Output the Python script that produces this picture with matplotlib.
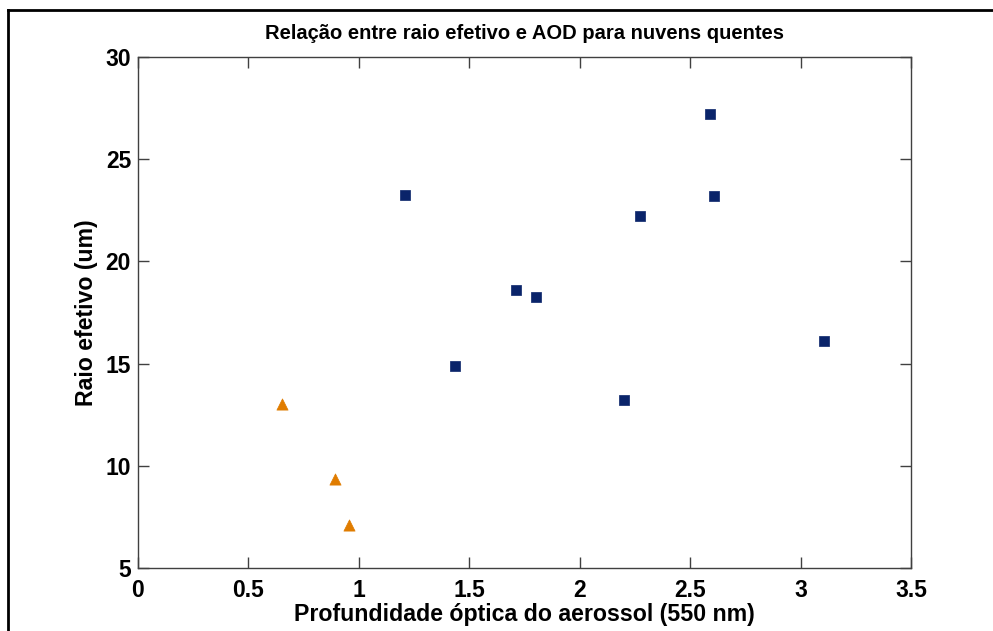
import matplotlib
matplotlib.use("Agg")
import matplotlib.pyplot as plt
from matplotlib.lines import Line2D

plt.rcParams['font.family'] = ['Liberation Sans', 'DejaVu Sans']

# Data
quentes_aod = [1.21, 1.435, 1.71, 1.80, 2.20, 2.275, 2.59, 2.61, 3.105]
quentes_reff = [23.25, 14.88, 18.60, 18.25, 13.22, 22.22, 27.22, 23.20, 16.10]
outros_aod = [0.652, 0.89, 0.955]
outros_reff = [13.0, 9.33, 7.08]

xticks = [0, 0.5, 1, 1.5, 2, 2.5, 3, 3.5]
xticklabels = ['0', '0.5', '1', '1.5', '2', '2.5', '3', '3.5']
yticks = [5, 10, 15, 20, 25, 30]

title = 'Relação entre raio efetivo e AOD para nuvens quentes'
xlabel = 'Profundidade óptica do aerossol (550 nm)'
ylabel = 'Raio efetivo (um)'

W, H = 993, 631
fig = plt.figure(figsize=(W / 100, H / 100), dpi=100)
ax = fig.add_axes([138 / W, 1 - 568 / H, (911 - 138) / W, (568 - 57) / H])

ax.scatter(quentes_aod, quentes_reff, marker='s', s=50, color='#0a246a',
           edgecolors='#0a246a', linewidths=0.5, zorder=3)
ax.scatter(outros_aod, outros_reff, marker='^', s=65, color='#e07c00',
           edgecolors='#e07c00', linewidths=0.5, zorder=3)

ax.set_xlim(0, 3.5)
ax.set_ylim(5, 30)
ax.set_xticks(xticks)
ax.set_xticklabels(xticklabels)
ax.set_yticks(yticks)

ax.tick_params(direction='in', length=8, width=1, color='#404040',
               top=True, right=True, labelsize=16.5)
ax.tick_params(axis='x', pad=8)
ax.tick_params(axis='y', pad=5)
for lab in ax.get_xticklabels() + ax.get_yticklabels():
    lab.set_fontweight('bold')
for sp in ax.spines.values():
    sp.set_color('#404040')
    sp.set_linewidth(1)

ax.set_title(title, fontsize=14.5, fontweight='bold', pad=13)
ax.set_xlabel(xlabel, fontsize=16.7, fontweight='bold', labelpad=1)
ax.set_ylabel(ylabel, fontsize=16.7, fontweight='bold', labelpad=5)

# outer frame (top and left edges)
fig.add_artist(Line2D([7.5 / W, 1.0], [1 - 9.5 / H, 1 - 9.5 / H],
                      transform=fig.transFigure, color='black', lw=2))
fig.add_artist(Line2D([7.5 / W, 7.5 / W], [0, 1 - 9.5 / H],
                      transform=fig.transFigure, color='black', lw=2))

fig.savefig('out.png', dpi=100)
